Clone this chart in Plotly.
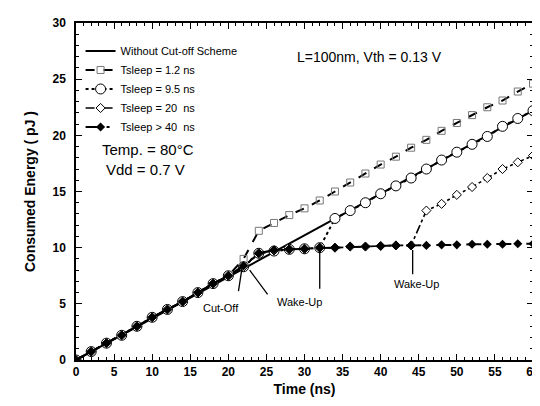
import plotly.graph_objects as go

# ---- data ----
time_ns = [0, 2, 4, 6, 8, 10, 12, 14, 16, 18, 20, 22, 24, 26, 28, 30,
           32, 34, 36, 38, 40, 42, 44, 46, 48, 50, 52, 54, 56, 58, 60]

base_x = [0, 60]
base_y = [0, 22.2]

e_t1p2 = [0, 0.75, 1.5, 2.2, 3.0, 3.8, 4.5, 5.2, 6.0, 6.8, 7.5,
          9.0, 11.5, 12.2, 12.9, 13.5, 14.2, 15.0, 15.8, 16.6, 17.4,
          18.1, 18.9, 19.6, 20.4, 21.1, 21.8, 22.5, 23.1, 23.9, 24.6]

e_t9p5 = [0, 0.75, 1.5, 2.2, 3.0, 3.8, 4.5, 5.2, 6.0, 6.8, 7.5,
          8.3, 9.5, 9.7, 9.85, 9.9, 10.0, 12.6, 13.3, 14.0, 14.8,
          15.5, 16.2, 17.0, 17.8, 18.5, 19.2, 19.9, 20.8, 21.5, 22.2]

e_t20 = [0, 0.75, 1.5, 2.2, 3.0, 3.8, 4.5, 5.2, 6.0, 6.8, 7.5,
         8.3, 9.5, 9.75, 9.85, 9.9, 10.0, 10.0, 10.1, 10.1, 10.15,
         10.2, 10.2, 13.3, 13.9, 14.7, 15.4, 16.2, 17.0, 17.6, 18.2]

e_t40 = [0, 0.75, 1.5, 2.2, 3.0, 3.8, 4.5, 5.2, 6.0, 6.8, 7.5,
         8.4, 9.5, 9.8, 9.85, 9.9, 10.0, 10.0, 10.1, 10.1, 10.15,
         10.2, 10.2, 10.2, 10.25, 10.25, 10.3, 10.3, 10.3, 10.35, 10.35]

names = ["Without Cut-off Scheme",
         "Tsleep = 1.2 ns",
         "Tsleep = 9.5 ns",
         "Tsleep = 20\u00a0\u00a0ns",
         "Tsleep > 40\u00a0\u00a0ns"]

FONT = "Liberation Sans"

fig = go.Figure()

fig.add_trace(go.Scatter(x=base_x, y=base_y, mode="lines", name=names[0],
                         line=dict(color="black", width=2)))

fig.add_trace(go.Scatter(x=time_ns, y=e_t1p2, mode="lines+markers", name=names[1],
                         line=dict(color="black", width=2, dash="dash"),
                         marker=dict(symbol="square-open", size=7,
                                     color="#777777", line=dict(width=1))))

fig.add_trace(go.Scatter(x=time_ns, y=e_t9p5, mode="lines+markers", name=names[2],
                         line=dict(color="black", width=2, dash="dot"),
                         marker=dict(symbol="circle", size=10, color="white",
                                     line=dict(color="black", width=1))))

fig.add_trace(go.Scatter(x=time_ns, y=e_t20, mode="lines+markers", name=names[3],
                         line=dict(color="black", width=1.6, dash="dashdot"),
                         marker=dict(symbol="diamond", size=7, color="white",
                                     line=dict(color="black", width=1))))

fig.add_trace(go.Scatter(x=time_ns, y=e_t40, mode="lines+markers", name=names[4],
                         line=dict(color="black", width=2, dash="longdashdot"),
                         marker=dict(symbol="diamond", size=7, color="black")))

ann_font = dict(family=FONT, size=11, color="black")

annotations = [
    dict(x=28.7, y=27.0, text="L=100nm, Vth = 0.13 V", showarrow=False,
         xanchor="left", font=dict(family=FONT, size=14, color="black")),
    dict(x=3.2, y=18.7, text="Temp. = 80°C", showarrow=False,
         xanchor="left", font=dict(family=FONT, size=15, color="black")),
    dict(x=3.7, y=16.95, text="Vdd = 0.7 V", showarrow=False,
         xanchor="left", font=dict(family=FONT, size=15, color="black")),
    dict(x=19.0, y=4.6, text="Cut-Off", showarrow=False, font=ann_font),
    dict(x=29.4, y=5.2, text="Wake-Up", showarrow=False, font=ann_font),
    dict(x=44.7, y=6.8, text="Wake-Up", showarrow=False, font=ann_font),
    # pointer lines
    dict(x=21.8, y=8.2, ax=21.3, ay=6.0, axref="x", ayref="y", text="",
         showarrow=True, arrowhead=0, arrowwidth=1.3, arrowcolor="black"),
    dict(x=22.8, y=8.0, ax=25.3, ay=5.7, axref="x", ayref="y", text="",
         showarrow=True, arrowhead=0, arrowwidth=1.3, arrowcolor="black"),
    dict(x=32.0, y=9.8, ax=32.0, ay=6.2, axref="x", ayref="y", text="",
         showarrow=True, arrowhead=0, arrowwidth=1.3, arrowcolor="black"),
    dict(x=44.2, y=9.8, ax=44.2, ay=7.5, axref="x", ayref="y", text="",
         showarrow=True, arrowhead=0, arrowwidth=1.3, arrowcolor="black"),
]

tickfont = dict(family=FONT, size=12, color="black", weight="bold")
titlefont = dict(family=FONT, size=14, color="black", weight="bold")

axis_common = dict(showline=True, linecolor="black", linewidth=1.5, mirror="ticks",
                   ticks="inside", ticklen=6, tickwidth=1.3, tickcolor="black",
                   showgrid=False, zeroline=False, tickfont=tickfont)

fig.update_layout(
    width=540, height=406,
    margin=dict(l=68, r=8, t=12, b=54),
    paper_bgcolor="white", plot_bgcolor="white",
    font=dict(family=FONT, color="black"),
    annotations=annotations,
    legend=dict(x=0.01, y=0.96, xanchor="left", yanchor="top",
                bgcolor="rgba(0,0,0,0)", borderwidth=0,
                font=dict(family=FONT, size=11, color="black"),
                itemwidth=30, tracegroupgap=0),
    xaxis=dict(range=[0, 60], dtick=5, tick0=0,
               minor=dict(dtick=1, ticks="inside", ticklen=3, tickcolor="black", tickwidth=1),
               title=dict(text="Time (ns)", font=titlefont, standoff=6),
               ticklabelstandoff=0, **axis_common),
    yaxis=dict(range=[0, 30], dtick=5, tick0=0,
               minor=dict(dtick=1, ticks="inside", ticklen=3, tickcolor="black", tickwidth=1),
               title=dict(text="Consumed Energy ( pJ )", font=titlefont, standoff=14),
               ticklabelstandoff=6, **axis_common),
)

fig.write_html("out.html")
